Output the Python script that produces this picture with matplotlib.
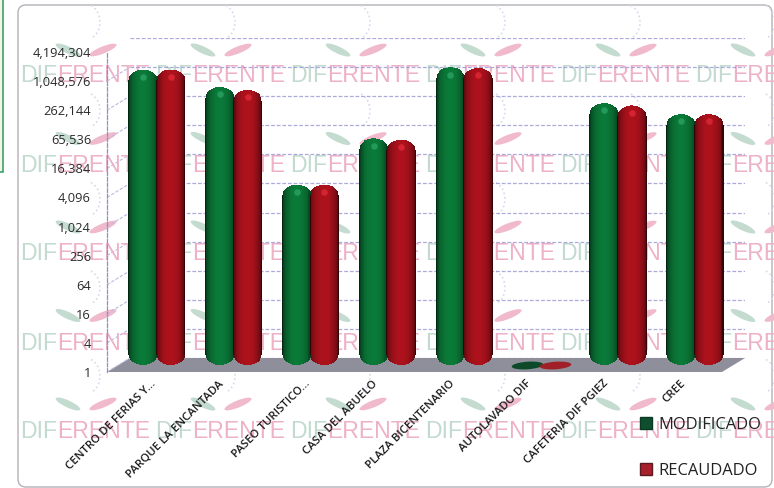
import numpy as np
import matplotlib
matplotlib.use("Agg")
import matplotlib.pyplot as plt
from matplotlib.patches import Ellipse, FancyBboxPatch, Polygon, Patch, Arc, Rectangle
from matplotlib.path import Path
from matplotlib.transforms import Affine2D, ScaledTranslation

categories = ["CENTRO DE FERIAS Y...", "PARQUE LA ENCANTADA", "PASEO TURISTICO...",
              "CASA DEL ABUELO", "PLAZA BICENTENARIO", "AUTOLAVADO DIF",
              "CAFETERIA DIF PGIEZ", "CREE"]
modificado = [1300000, 565000, 5400, 49000, 1450000, 1, 262000, 155000]
recaudado = [1300000, 490000, 5400, 46000, 1400000, 1, 235000, 155000]
y_ticks = [4 ** k for k in range(12)]

W, H = 774, 488
plt.rcParams["font.family"] = ["Open Sans", "DejaVu Sans"]
fig = plt.figure(figsize=(W / 100, H / 100), dpi=100)

def rect(left, top, width, height):
  return [left / W, 1 - (top + height) / H, width / W, height / H]

# paper background, drawn in pixel coordinates
bg = fig.add_axes([0, 0, 1, 1])
bg.set_xlim(0, W)
bg.set_ylim(H, 0)
bg.axis("off")
bg.add_patch(Rectangle((-1, -1), 4, 173, fc="#f4f6e4", ec="#3f9f70", lw=1.2))
bg.add_patch(FancyBboxPatch((18, 5), 754, 482, boxstyle="round,pad=0,rounding_size=8",
                            fc="white", ec="#b5b0b8", lw=1))

# watermark
for row in range(5):
  y_word = 76 + row * 89
  y_leaf = 50 + row * 88.5
  for k in range(6):
    x0 = 20 + k * 135
    bg.text(x0, y_word, "DIF", color="#c2dacf", fontsize=16.6, va="center", ha="left",
            family="Liberation Sans", clip_on=True)
    bg.text(x0 + 37, y_word, "ERENTE", color="#eeb2c8", fontsize=16.6, va="center", ha="left",
            family="Liberation Sans", clip_on=True)
    bg.add_patch(Ellipse((68 + k * 135, y_leaf), 27, 7, angle=25, fc="#c4dbd0", ec="none"))
    bg.add_patch(Ellipse((103 + k * 135, y_leaf), 29, 7, angle=-22, fc="#f0b9cc", ec="none"))
    bg.add_patch(Arc((85 + k * 135, y_leaf - 28), 30, 36, theta1=-70, theta2=70,
                     color="#d9d8ee", lw=1.2, ls=":"))

# back wall, shifted by the 3D depth
wall = fig.add_axes(rect(130, 38, 615, 320))
front = fig.add_axes(rect(107, 52, 615, 320))
bars = fig.add_axes(rect(118, 45, 615, 320))

for ax in [wall, front, bars]:
  ax.set_xlim(-0.5, 7.5)
  ax.set_yscale("log", base=2)
  ax.set_ylim(1, 4 ** 11)
  ax.patch.set_alpha(0)
  ax.minorticks_off()

wall.set_yticks(y_ticks)
wall.set_xticks([])
wall.tick_params(left=False, labelleft=False)
wall.grid(axis="y", color="#8f8fd0", lw=0.9, ls=(0, (3, 1.5)), alpha=0.75)
for s in wall.spines.values():
  s.set_visible(False)

# floor and left side lines
bg.add_patch(Polygon([(107, 372), (130, 358), (745, 358), (722, 372)], fc="#8f8f9c", ec="none"))
for v in y_ticks[:-1]:
  y_px = 372 - np.log(v) / np.log(4) * 320 / 11
  bg.plot([107, 130], [y_px, y_px - 14], color="#b9b9e0", lw=0.8, ls=(0, (3, 1.5)))

front.set_yticks(y_ticks, [f"{v:,}" for v in y_ticks])
front.set_xticks(range(len(categories)))
front.set_xticklabels(categories, rotation=45, ha="right", va="top", rotation_mode="anchor",
                      fontsize=8.2, color="#1c1c1c", fontweight="semibold")
front.tick_params(axis="y", length=0, pad=11.5, labelsize=9.3, labelcolor="#2a2a2a")
front.tick_params(axis="x", length=0, pad=8)
# truncated names sit a little further right than the full ones
for lab in front.get_xticklabels():
  dx = 5 if lab.get_text().endswith("...") else -4
  lab.set_transform(lab.get_transform() + ScaledTranslation(dx / 100, 5 / 100, fig.dpi_scale_trans))
for name, s in front.spines.items():
  s.set_visible(name == "left")
front.spines["left"].set_color("#8f8fd0")
front.spines["left"].set_linestyle((0, (3, 1.5)))
front.spines["left"].set_linewidth(0.9)

bars.axis("off")

def shade(base, u):
  # dark at the rim, brighter near the middle of the cylinder
  return tuple(np.array(base) * (0.3 + 0.7 * np.sqrt(max(0, 1 - u ** 2))))

bar_w = 0.37
u_vals = np.linspace(-1, 1, 31)
step = bar_w / (len(u_vals) - 1)
round_log2 = 0.72

def cylinder(x, value, base, top_color, flat_color):
  if value <= 1:
    marker = Path.unit_circle().transformed(Affine2D().scale(1, 0.24).rotate_deg(4))
    bars.scatter([x], [1], marker=marker, s=520, color=flat_color, lw=0, clip_on=False)
    return
  for u in u_vals:
    d = round_log2 * (1 - np.sqrt(max(0, 1 - u ** 2)))
    lo = 2 ** d
    hi = value * 2 ** (-d)
    bars.bar(x + u * bar_w / 2, hi - lo, bottom=lo, width=step * 1.25, color=[shade(base, u)],
             lw=0, clip_on=False)
  bars.scatter([x], [value * 2 ** (-0.5)], s=22, color=top_color, alpha=0.6, lw=0, clip_on=False)

for i in range(len(categories)):
  cylinder(i - 0.175, modificado[i], (0.04, 0.48, 0.22), "#35b070", "#0c4a2a")
  cylinder(i + 0.185, recaudado[i], (0.68, 0.07, 0.11), "#f03040", "#a02028")

# legend
handles = [Patch(fc="#0f4f30", ec="#0a3a24", label="MODIFICADO"),
           Patch(fc="#a8202c", ec="#5a1a20", label="RECAUDADO")]
leg = fig.legend(handles=handles, loc="upper left", bbox_to_anchor=(640 / W, 1 - 417 / H),
                 frameon=False, fontsize=11.9, handlelength=0.75, handleheight=0.75,
                 handletextpad=0.35, labelspacing=1.8, borderpad=0, borderaxespad=0)
for t in leg.get_texts():
  t.set_color("#222222")

fig.savefig("out.png", dpi=100)
